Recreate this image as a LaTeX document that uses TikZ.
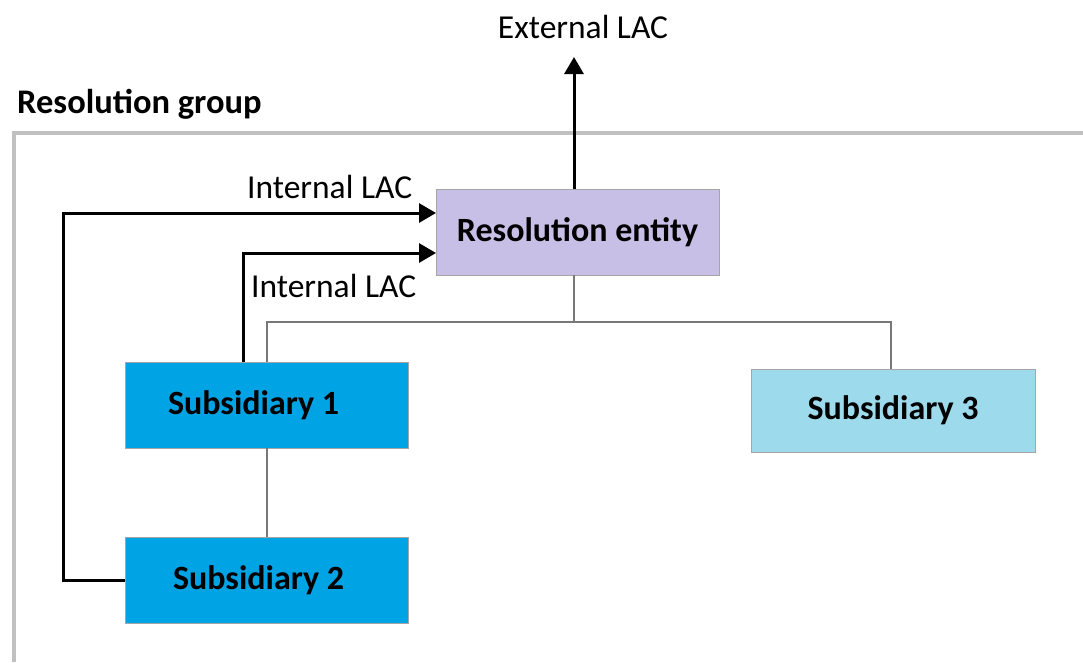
\documentclass[tikz,border=0pt]{standalone}
\usepackage{fontspec}
\setmainfont{Carlito}
\usetikzlibrary{arrows.meta}
\definecolor{grpgray}{RGB}{192,192,192}
\definecolor{lav}{RGB}{200,191,230}
\definecolor{blue1}{RGB}{0,164,228}
\definecolor{blue3}{RGB}{156,218,236}
\definecolor{boxborder}{RGB}{165,165,165}
\definecolor{treegray}{RGB}{120,120,120}
\begin{document}
\begin{tikzpicture}[x=1pt,y=-1pt,
  box/.style={draw=boxborder,line width=1pt,inner sep=0pt,font=\fontsize{34}{40}\selectfont\bfseries},
  lac/.style={draw=black,line width=3pt,-{Triangle[length=17pt,width=19pt]}},
  tree/.style={draw=treegray,line width=1.4pt},
  lbl/.style={font=\fontsize{33.5}{40}\selectfont,inner sep=0pt}]
\useasboundingbox (0,0) rectangle (1083,662);
% group frame
\draw[grpgray,line width=4.5pt] (14,662) -- (14,133) -- (1083,133);
\node[anchor=west,inner sep=0pt,font=\fontsize{34.5}{40}\selectfont\bfseries] (grp) at (17,104) {Resolution group};
% boxes
\node[box,fill=lav,minimum width=283pt,minimum height=86pt] (re) at (577.5,232) {\raisebox{-2pt}{Resolution entity}};
\node[box,fill=blue1,minimum width=283pt,minimum height=86pt] (s1) at (266.5,405) {\hspace*{-26pt}\raisebox{2pt}{Subsidiary 1}};
\node[box,fill=blue1,minimum width=283pt,minimum height=86pt] (s2) at (266.5,580) {\hspace*{-16pt}Subsidiary 2};
\node[box,fill=blue3,minimum width=284pt,minimum height=83pt] (s3) at (893,410.5) {\raisebox{-2pt}{Subsidiary 3}};
% labels
\node[lbl] (ext) at (583,27) {External LAC};
\node[lbl,anchor=west] (int1) at (247,187) {Internal LAC};
\node[lbl,anchor=west] (int2) at (251,286) {Internal LAC};
% tree connectors
\coordinate (j) at (574,322);
\draw[tree] (574,275) -- (j);
\draw[tree] (267,362) |- (j) -| (891,369);
\draw[tree] (267,448) -- (267,537);
% arrows
\coordinate (top) at (574,57);
\draw[lac] (574,189) -- (top);
\draw[lac] (s2.west) -| (63,213) -- (436,213);
\draw[lac] (243,362) |- (436,253);
\end{tikzpicture}
\end{document}
